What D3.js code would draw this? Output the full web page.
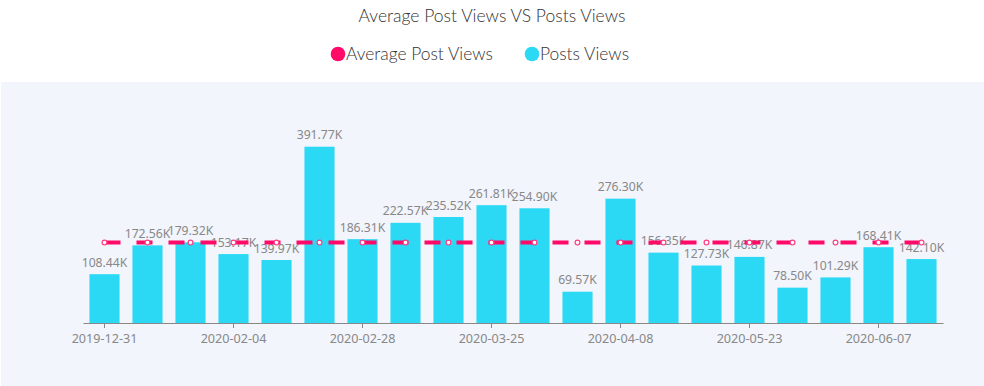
<!DOCTYPE html>
<html>
<head>
<meta charset="utf-8">
<script src="https://cdn.jsdelivr.net/npm/d3@7"></script>
<style>
  html, body { margin: 0; padding: 0; background: #fff; }
  svg { display: block; }
</style>
</head>
<body>
<div id="output"></div>
<script>
(function () {

"use strict";

// Dates under each bar (only every third one is printed on the axis)
var dates = [ "2019-12-31", "", "", "2020-02-04", "", "", "2020-02-28", "", "", "2020-03-25",
              "", "", "2020-04-08", "", "", "2020-05-23", "", "", "2020-06-07", "" ]

var postsViews = [ 108440, 172560, 179320, 153170, 139970, 391770, 186310, 222570, 235520, 261810,
                   254900, 69570, 276300, 156350, 127730, 146870, 78500, 101290, 168410, 142100 ]

var averageViews = [ 178670, 178670, 178670, 178670, 178670, 178670, 178670, 178670, 178670, 178670,
                     178670, 178670, 178670, 178670, 178670, 178670, 178670, 178670, 178670, 178670 ]

var seriesNames = [ "Average Post Views", "Posts Views" ]
var seriesColors = [ "#ff0a68", "#2bd9f5" ]
var title = "Average Post Views VS Posts Views"

var width = 984
  , height = 386
  , svg = d3.select("#output").append("svg").attr("width", width).attr("height", height)

// light panel behind the plot
svg.append("rect")
  .attr("x", 1).attr("y", 82)
  .attr("width", width - 1).attr("height", height - 82)
  .style("fill", "#f2f5fc")

// Title
svg.append("text")
  .attr("x", 492).attr("y", 22)
  .attr("text-anchor", "middle")
  .style("font-family", "Lato, sans-serif").style("font-size", "17.5px").style("font-weight", 300)
  .style("fill", "#333")
  .text(title)

// Legend
var legendX = [ 338, 532 ]
var legend = svg.selectAll("g.legend").data(seriesNames).enter()
  .append("g").attr("class", "legend")
  .attr("transform", function (d, i) { return "translate(" + legendX[i] + ",54)" })
legend.append("circle").attr("r", 7.3).style("fill", function (d, i) { return seriesColors[i] })
legend.append("text")
  .attr("x", 8).attr("y", 6)
  .style("font-family", "Lato, sans-serif").style("font-size", "17.4px").style("font-weight", 300)
  .style("fill", "#333")
  .text(function (d) { return d })

// Scales
var x = d3.scaleBand()
  .domain(dates.map(function (d, i) { return i }))
  .range([ 83, 943 ])
  .paddingInner(0.3).paddingOuter(0.15)

var y = d3.scaleLinear().domain([ 0, 400000 ]).range([ 323, 143 ])

// Bars
svg.append("g").selectAll("rect").data(postsViews).enter()
  .append("rect")
  .attr("x", function (d, i) { return x(i) })
  .attr("y", function (d) { return y(d) })
  .attr("width", x.bandwidth())
  .attr("height", function (d) { return y(0) - y(d) })
  .style("fill", seriesColors[1])

// Bar labels
svg.append("g").selectAll("text").data(postsViews).enter()
  .append("text")
  .attr("x", function (d, i) { return x(i) + x.bandwidth() / 2 })
  .attr("y", function (d) { return y(d) - 7.5 })
  .attr("text-anchor", "middle")
  .style("font-family", "'Noto Sans', sans-serif").style("font-size", "12.2px")
  .style("fill", "#888")
  .text(function (d) { return (d / 1000).toFixed(2) + "K" })

// Average line
var line = d3.line()
  .x(function (d, i) { return x(i) + x.bandwidth() / 2 })
  .y(function (d) { return y(d) })

svg.append("path")
  .datum(averageViews)
  .attr("d", line)
  .style("fill", "none")
  .style("stroke", seriesColors[0])
  .style("stroke-width", 4)
  .style("stroke-dasharray", "16,16")

svg.append("g").selectAll("circle").data(averageViews).enter()
  .append("circle")
  .attr("cx", function (d, i) { return x(i) + x.bandwidth() / 2 })
  .attr("cy", function (d) { return y(d) })
  .attr("r", 2.4)
  .style("fill", "#fff")
  .style("stroke", "#ff3d85")
  .style("stroke-width", 1.2)

// X axis
var xAxis = d3.axisBottom(x)
  .tickValues(x.domain().filter(function (i) { return dates[i] !== "" }))
  .tickFormat(function (i) { return dates[i] })
  .tickSize(5).tickSizeOuter(0).tickPadding(6)

var axisG = svg.append("g").attr("transform", "translate(0," + y(0) + ")").call(xAxis)
axisG.select(".domain").style("stroke", "#888")
axisG.selectAll(".tick line").style("stroke", "#888")
axisG.selectAll(".tick text")
  .style("font-family", "'Noto Sans', sans-serif").style("font-size", "12.6px")
  .style("fill", "#888")

}())
</script>
</body>
</html>
